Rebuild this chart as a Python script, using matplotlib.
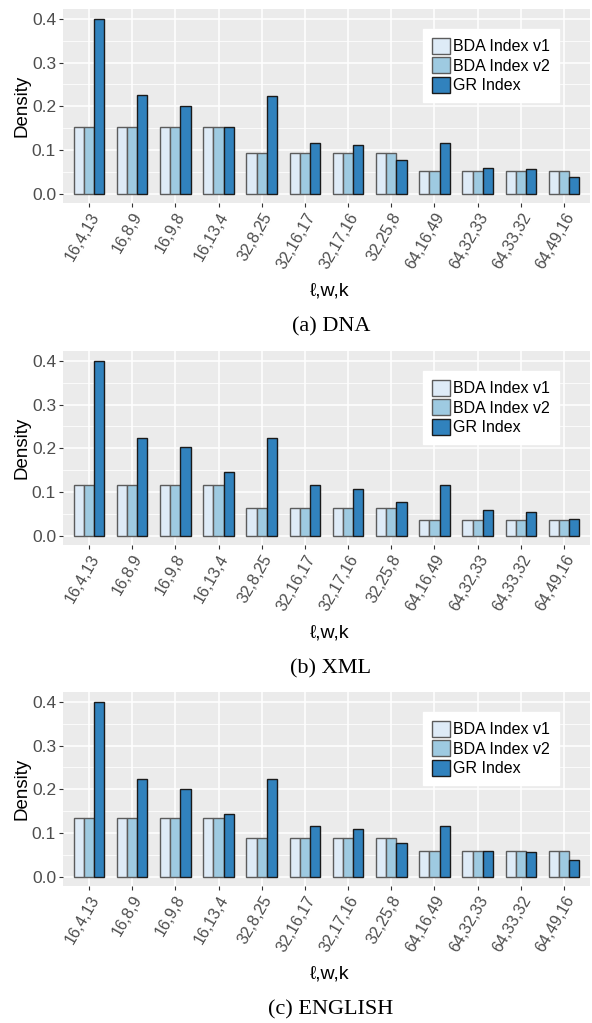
import matplotlib
matplotlib.use("Agg")
import matplotlib.pyplot as plt
import matplotlib.transforms as mtransforms
import numpy as np
from matplotlib.ticker import MultipleLocator

categories = ["16,4,13", "16,8,9", "16,9,8", "16,13,4", "32,8,25", "32,16,17",
              "32,17,16", "32,25,8", "64,16,49", "64,32,33", "64,33,32", "64,49,16"]
series_names = ["BDA Index v1", "BDA Index v2", "GR Index"]

dna_bda_v1 = [0.154, 0.154, 0.154, 0.154, 0.093, 0.093, 0.093, 0.093, 0.054, 0.054, 0.054, 0.054]
dna_bda_v2 = [0.154, 0.154, 0.154, 0.154, 0.093, 0.093, 0.093, 0.093, 0.054, 0.054, 0.054, 0.054]
dna_gr = [0.400, 0.225, 0.202, 0.154, 0.223, 0.117, 0.112, 0.077, 0.117, 0.059, 0.057, 0.040]

xml_bda_v1 = [0.116, 0.116, 0.116, 0.116, 0.065, 0.065, 0.065, 0.065, 0.037, 0.037, 0.037, 0.037]
xml_bda_v2 = [0.116, 0.116, 0.116, 0.116, 0.065, 0.065, 0.065, 0.065, 0.037, 0.037, 0.037, 0.037]
xml_gr = [0.400, 0.224, 0.203, 0.146, 0.223, 0.116, 0.107, 0.078, 0.117, 0.059, 0.056, 0.040]

eng_bda_v1 = [0.134, 0.134, 0.134, 0.134, 0.090, 0.090, 0.090, 0.090, 0.059, 0.059, 0.059, 0.059]
eng_bda_v2 = [0.134, 0.134, 0.134, 0.134, 0.090, 0.090, 0.090, 0.090, 0.059, 0.059, 0.059, 0.059]
eng_gr = [0.400, 0.223, 0.202, 0.144, 0.223, 0.117, 0.111, 0.077, 0.117, 0.059, 0.057, 0.040]

captions = ["(a) DNA", "(b) XML", "(c) ENGLISH"]
panels = [(dna_bda_v1, dna_bda_v2, dna_gr),
          (xml_bda_v1, xml_bda_v2, xml_gr),
          (eng_bda_v1, eng_bda_v2, eng_gr)]

fills = ["#DEEBF7", "#9ECAE1", "#3182BD"]
edges = ["#5c5c5c", "#5c5c5c", "#1a1a1a"]

W, H = 592, 1023
fig = plt.figure(figsize=(W / 100, H / 100), dpi=100)
sans = ["Liberation Sans", "DejaVu Sans"]
serif = ["Liberation Serif", "DejaVu Serif"]

tops = [9, 351, 692]
ax_h = 194
left, right = 63, 590

x = np.arange(1, len(categories) + 1)
bw = 0.235

for i, (vals, cap) in enumerate(zip(panels, captions)):
    top = tops[i]
    ax = fig.add_axes([left / W, 1 - (top + ax_h) / H, (right - left) / W, ax_h / H])
    ax.set_facecolor("#EBEBEB")
    ax.set_ylim(-0.02, 0.422)
    ax.set_xlim(0.4, 12.6)
    ax.yaxis.set_major_locator(MultipleLocator(0.1))
    ax.yaxis.set_minor_locator(MultipleLocator(0.05))
    ax.grid(which="major", axis="both", color="white", linewidth=1.1, zorder=0)
    ax.grid(which="minor", axis="y", color="white", linewidth=0.55, zorder=0)
    ax.set_axisbelow(True)
    for s in ax.spines.values():
        s.set_visible(False)
    for j, v in enumerate(vals):
        ax.bar(x + (j - 1) * bw, v, width=bw, color=fills[j], edgecolor=edges[j],
               linewidth=1.0, label=series_names[j], zorder=2)
    ax.set_xticks(x)
    labels = ax.set_xticklabels(categories, rotation=60, ha="right", va="top",
                                rotation_mode="anchor", family=sans, fontsize=11.5, color="#4D4D4D")
    off = mtransforms.ScaledTranslation(5 / 100, 0, fig.dpi_scale_trans)
    for lab in labels:
        lab.set_transform(lab.get_transform() + off)
    ax.set_yticks([0, 0.1, 0.2, 0.3, 0.4])
    ax.set_yticklabels(["0.0", "0.1", "0.2", "0.3", "0.4"], family=sans, fontsize=12.5, color="#4D4D4D")
    ax.tick_params(axis="both", which="major", length=3, width=0.8, color="#333333", pad=2)
    ax.tick_params(axis="y", which="minor", length=0)
    ax.set_ylabel("Density", family=sans, fontsize=13.5, labelpad=1)
    fig.text(330 / W, 1 - (top + 282) / H, "ℓ,w,k", ha="center", va="center",
             family=sans, fontsize=14)
    leg = ax.legend(loc="upper left", bbox_to_anchor=(0.683, 0.897), prop={"family": sans, "size": 11.5},
                    frameon=True, fancybox=False, edgecolor="white", facecolor="white", framealpha=1,
                    handlelength=1.15, handleheight=1.15, handletextpad=0.2, labelspacing=0.2,
                    borderpad=0.55, borderaxespad=0)
    fig.text(331 / W, 1 - (top + 318) / H, cap, ha="center", va="center",
             family=serif, fontsize=16)

fig.savefig("out.png", dpi=100)
